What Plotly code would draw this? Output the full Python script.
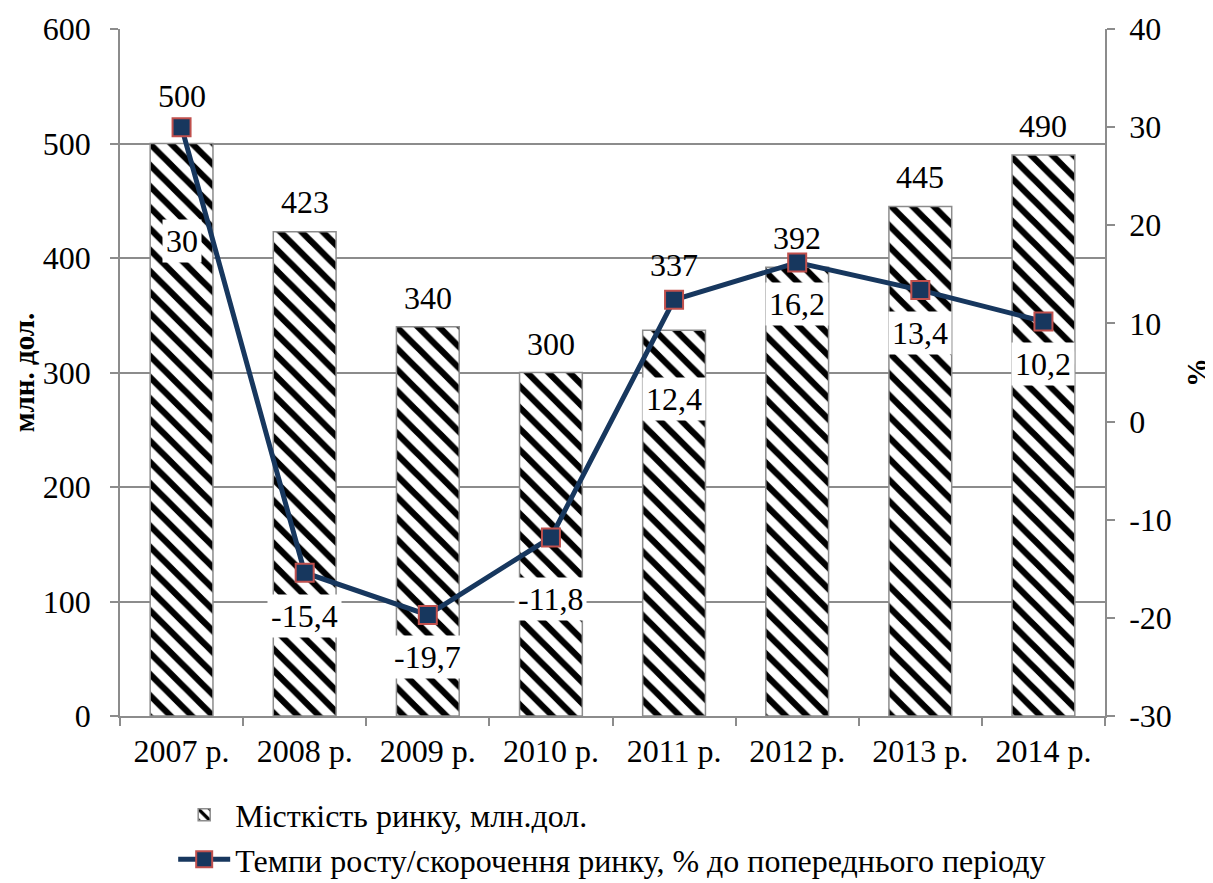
import plotly.graph_objects as go

years = ["2007 р.", "2008 р.", "2009 р.", "2010 р.", "2011 р.", "2012 р.", "2013 р.", "2014 р."]
capacity = [500, 423, 340, 300, 337, 392, 445, 490]
growth = [30, -15.4, -19.7, -11.8, 12.4, 16.2, 13.4, 10.2]
left_ticks = [0, 100, 200, 300, 400, 500, 600]
right_ticks = [-30, -20, -10, 0, 10, 20, 30, 40]

bar_name = "Місткість ринку, млн.дол."
line_name = "Темпи росту/скорочення ринку, % до попереднього періоду"

# label placement offsets (pixels)
bar_label_shift = [48, 30, 29, 29, 65, 29, 29, 29]
line_label_shift = [114, 43, 42, 62, 99, 41, 43, 43]

FONT = "Liberation Serif"
FS = 32
GRAY = "#8c8c8c"
NAVY = "#17375E"
RED = "#C0504D"

fig = go.Figure()
fig.add_trace(go.Bar(
    x=years, y=capacity, name=bar_name, legendgroup="a",
    marker=dict(color="white", line=dict(color=GRAY, width=1.5),
                pattern=dict(shape="\\", fgcolor="black", bgcolor="white", fgopacity=1,
                             size=15, solidity=0.42)),
    yaxis="y",
))
fig.add_trace(go.Scatter(
    x=years, y=growth, name=line_name, legendgroup="b",
    mode="lines+markers", yaxis="y2",
    line=dict(color=NAVY, width=5),
    marker=dict(symbol="square", size=18, color=NAVY, line=dict(color=RED, width=2)),
))

annotations = []
for i, (yr, v) in enumerate(zip(years, capacity)):
    annotations.append(dict(x=yr, y=v, xref="x", yref="y", text=str(v),
                            showarrow=False, yanchor="middle", yshift=bar_label_shift[i],
                            font=dict(family=FONT, size=FS, color="black")))
for i, (yr, v) in enumerate(zip(years, growth)):
    txt = (f"{v:g}").replace(".", ",")
    annotations.append(dict(x=yr, y=v, xref="x", yref="y2", text=txt,
                            showarrow=False, yanchor="middle", yshift=-line_label_shift[i],
                            bgcolor="white", borderpad=3,
                            font=dict(family=FONT, size=FS, color="black")))

# page body adds an 8px offset; figure sized to the visible area
fig.update_layout(
    width=1205, height=875,
    margin=dict(l=112, r=108, t=21, b=167, autoexpand=False),
    paper_bgcolor="white", plot_bgcolor="white",
    font=dict(family=FONT, size=FS, color="black"),
    bargap=0.49,
    showlegend=True,
    legend=dict(orientation="v", x=0.054, xanchor="left", y=-0.104, yanchor="top",
                traceorder="grouped", tracegroupgap=0, itemwidth=52,
                font=dict(family=FONT, size=32, color="black"),
                bgcolor="rgba(0,0,0,0)"),
    xaxis=dict(type="category", range=[-0.5, 7.5], showline=True, linecolor=GRAY, linewidth=1.5,
               ticks="outside", tickson="boundaries", ticklen=8, tickcolor=GRAY, tickwidth=1.5,
               showgrid=False, ticklabelstandoff=6, automargin=False),
    yaxis=dict(range=[0, 600], tickvals=left_ticks, ticktext=[str(t) for t in left_ticks],
               showgrid=True, gridcolor=GRAY, gridwidth=1.5,
               showline=True, linecolor=GRAY, linewidth=1.5, zeroline=False, automargin=False,
               ticks="outside", ticklen=8, tickcolor=GRAY, tickwidth=1.5, ticklabelstandoff=13,
               title=dict(text="<b>млн. дол.</b>", font=dict(family=FONT, size=29), standoff=18)),
    yaxis2=dict(range=[-30, 40], tickvals=right_ticks, ticktext=[str(t) for t in right_ticks],
                overlaying="y", side="right", showgrid=False, automargin=False,
                showline=True, linecolor=GRAY, linewidth=1.5, zeroline=False,
                ticks="outside", ticklen=8, tickcolor=GRAY, tickwidth=1.5, ticklabelstandoff=8,
                title=dict(text="<b>%</b>", font=dict(family=FONT, size=29), standoff=40)),
    annotations=annotations,
)

fig.write_html("out.html")
